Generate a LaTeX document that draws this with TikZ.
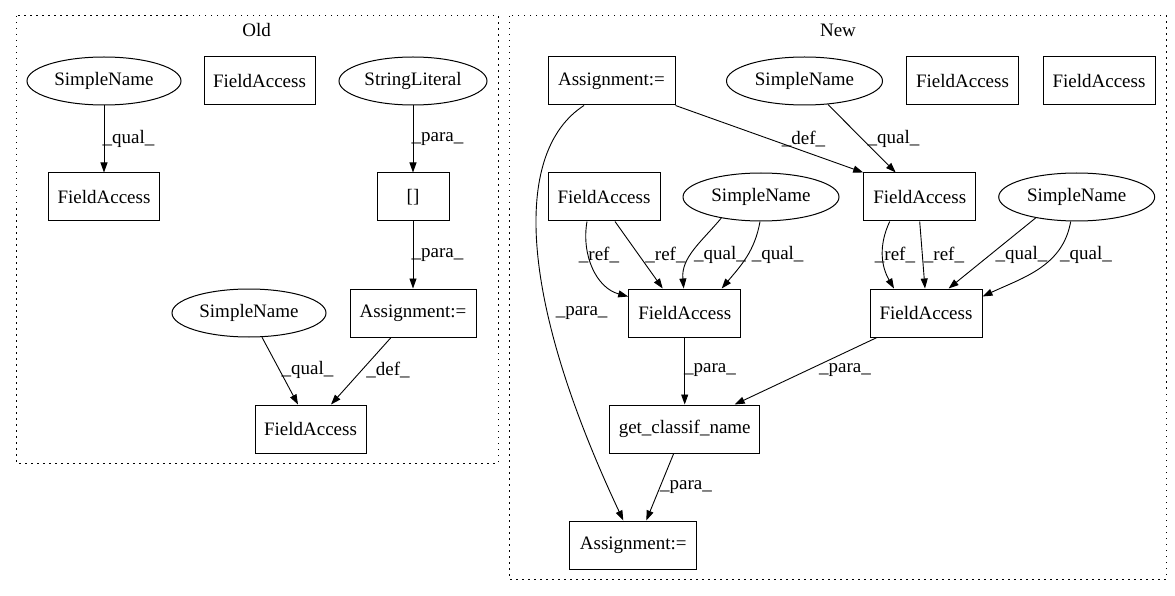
\documentclass[tikz,border=0pt]{standalone}
\usepackage{fontspec}
\setmainfont{Liberation Serif}
\usetikzlibrary{arrows.meta,shapes.geometric,calc}
\begin{document}
\begin{tikzpicture}[x=1pt,y=-1pt,
 every node/.style={font=\fontsize{19}{21}\selectfont},
 box/.style={draw, line width=1pt, rectangle, minimum height=48pt, inner sep=0pt},
 oval/.style={draw, line width=1pt, ellipse, minimum height=48pt, inner sep=0pt},
 edge/.style={line width=0.9pt, -{Triangle[length=10pt,width=7pt]}},
 lab/.style={inner sep=0pt},
 cluster/.style={line width=1pt, dash pattern=on 1.5pt off 4.5pt}]
\useasboundingbox (0,0) rectangle (1175,596);
% clusters
\draw[cluster] (16,16) rectangle (498,463);
\node (oldlab) at (256.7,30) {Old};
\draw[cluster] (509,16) rectangle (1166,579);
\node (newlab) at (838,30) {New};
% Old nodes
\node[oval, minimum width=154pt] (sn1) at (104,81) {SimpleName};
\node[box, minimum width=111pt] (faO1) at (259.5,81) {FieldAccess};
\node[oval, minimum width=148pt] (sl) at (413,81) {StringLiteral};
\node[box, minimum width=111pt] (fa1) at (104,197) {FieldAccess};
\node[box, minimum width=72pt] (br) at (413,197) {[]};
\node[box, minimum width=126pt] (as) at (413,313) {Assignment:=};
\node[oval, minimum width=154pt] (sn2) at (249,313) {SimpleName};
\node[box, minimum width=111pt] (fa3) at (310.5,429) {FieldAccess};
% Old edges
\draw[edge] (sn1) -- (fa1);
\node[lab] at (128.5,139) {\_qual\_};
\draw[edge] (sl) -- (br);
\node[lab] at (437.5,139) {\_para\_};
\draw[edge] (br) -- (as);
\node[lab] at (437.5,255) {\_para\_};
\draw[edge] (sn2) -- ([xshift=-12.5pt]fa3.north);
\node[lab] at (307.5,370) {\_qual\_};
\draw[edge] (as) -- ([xshift=20.5pt]fa3.north);
\node[lab] at (388,370) {\_def\_};
% New nodes
\node[box, minimum width=127pt] (at) at (611.5,81) {Assignment:=};
\node[oval, minimum width=156pt] (sna) at (804.5,81) {SimpleName};
\node[box, minimum width=112pt] (fe1) at (962.5,81) {FieldAccess};
\node[box, minimum width=112pt] (fe2) at (1099,81) {FieldAccess};
\node[box, minimum width=112pt] (fa) at (604,197) {FieldAccess};
\node[oval, minimum width=156pt] (snb) at (761,197) {SimpleName};
\node[box, minimum width=112pt] (fb) at (919.7,197) {FieldAccess};
\node[oval, minimum width=156pt] (snc) at (1076.7,197) {SimpleName};
\node[box, minimum width=112pt] (fc) at (684.7,313) {FieldAccess};
\node[box, minimum width=112pt] (fd) at (926,313) {FieldAccess};
\node[box, minimum width=150pt] (gc) at (684.7,429) {get\_classif\_name};
\node[box, minimum width=127pt] (ab) at (633.3,545) {Assignment:=};
% New edges
\draw[edge] (at.south east) -- (fb.north west);
\node[lab] at (803.5,139) {\_def\_};
\draw[edge] (sna) -- ([xshift=-24pt]fb.north);
\node[lab] at (893.5,139) {\_qual\_};
\draw[edge] ([xshift=-27.5pt]at.south) .. controls (515,150) and (515,290) .. ([xshift=-10pt]ab.north);
\node[lab] at (581.6,313) {\_para\_};
\draw[edge] ([xshift=-17pt]fa.south) to[out=-100,in=165] ([yshift=-8pt]fc.north west);
\node[lab] at (599,255) {\_ref\_};
\draw[edge] ([xshift=11pt]fa.south) -- ([xshift=-22pt]fc.north);
\node[lab] at (665.5,255) {\_ref\_};
\draw[edge] (snb.-152) to[out=-130,in=95] ([xshift=-1pt]fc.north);
\node[lab] at (720,255) {\_qual\_};
\draw[edge] ([xshift=-1pt]snb.south) to[out=-100,in=50] ([xshift=37pt]fc.north);
\node[lab] at (777.6,255) {\_qual\_};
\draw[edge] ([xshift=-30pt]fb.south) to[out=-115,in=120] ([xshift=-32pt]fd.north);
\node[lab] at (895,255) {\_ref\_};
\draw[edge] (fb.south) -- ([xshift=-1pt]fd.north);
\node[lab] at (944,255) {\_ref\_};
\draw[edge] (snc.-153) -- ([xshift=22.6pt]fd.north);
\node[lab] at (1021.5,255) {\_qual\_};
\draw[edge] ([xshift=-6pt]snc.south) to[out=-100,in=25] ([yshift=-8pt]fd.north east);
\node[lab] at (1086,255) {\_qual\_};
\draw[edge] (fc) -- (gc);
\node[lab] at (710,370) {\_para\_};
\draw[edge] ([xshift=-49pt]fd.south) -- ([xshift=50pt]gc.north);
\node[lab] at (845,370) {\_para\_};
\draw[edge] ([xshift=-11pt]gc.south) -- ([xshift=13pt]ab.north);
\node[lab] at (686,487) {\_para\_};
\end{tikzpicture}
\end{document}
